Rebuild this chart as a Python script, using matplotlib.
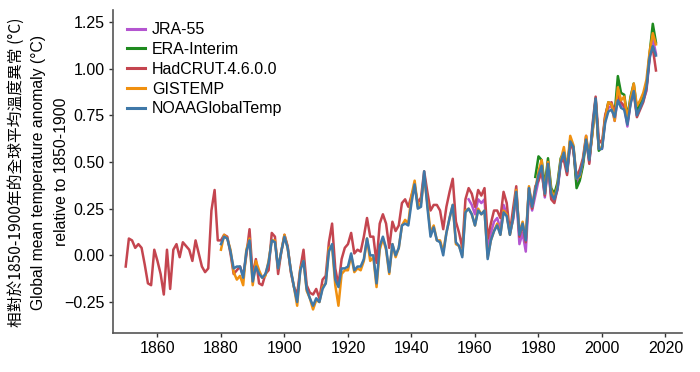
"""Global mean temperature anomaly relative to 1850-1900, five datasets."""

import matplotlib
matplotlib.use("Agg")
import matplotlib.pyplot as plt
import numpy as np

# ── Data ──────────────────────────────────────────────────────────────
years_hadcrut = np.arange(1850, 2018)
hadcrut = [
    -0.06, 0.09, 0.08, 0.04, 0.06, 0.04, -0.05, -0.15, -0.16, 0.03,
    -0.03, -0.10, -0.21, 0.03, -0.18, 0.03, 0.06, -0.01, 0.07, 0.05,
    0.03, -0.03, 0.08, 0.01, -0.06, -0.09, -0.07, 0.24, 0.35, 0.08,
    0.08, 0.11, 0.10, 0.01, -0.10, -0.08, -0.06, -0.11, 0.00, 0.14,
    -0.11, -0.02, -0.15, -0.16, -0.10, -0.08, 0.12, 0.10, -0.10, 0.02,
    0.11, 0.05, -0.09, -0.17, -0.21, -0.07, 0.03, -0.16, -0.20, -0.21,
    -0.18, -0.23, -0.13, -0.11, 0.07, 0.17, -0.07, -0.16, -0.02, 0.04,
    0.06, 0.12, 0.01, 0.03, 0.02, 0.10, 0.20, 0.10, 0.10, -0.04,
    0.17, 0.22, 0.17, 0.04, 0.18, 0.13, 0.16, 0.28, 0.30, 0.26,
    0.32, 0.37, 0.28, 0.31, 0.45, 0.34, 0.24, 0.27, 0.27, 0.24,
    0.14, 0.26, 0.34, 0.41, 0.18, 0.12, 0.04, 0.30, 0.36, 0.33,
    0.26, 0.35, 0.32, 0.36, 0.09, 0.17, 0.24, 0.24, 0.20, 0.34,
    0.28, 0.12, 0.25, 0.37, 0.10, 0.16, 0.07, 0.36, 0.25, 0.37,
    0.40, 0.45, 0.32, 0.50, 0.30, 0.28, 0.36, 0.50, 0.51, 0.43,
    0.61, 0.56, 0.42, 0.46, 0.52, 0.64, 0.49, 0.70, 0.85, 0.62,
    0.60, 0.75, 0.81, 0.82, 0.76, 0.86, 0.82, 0.80, 0.71, 0.82,
    0.87, 0.74, 0.78, 0.82, 0.89, 1.07, 1.11, 0.99,
]

years_gis = np.arange(1880, 2018)
gistemp = [
    0.03, 0.11, 0.09, 0.03, -0.09, -0.13, -0.11, -0.16, 0.03, 0.09,
    -0.16, -0.03, -0.08, -0.12, -0.11, -0.03, 0.08, 0.08, -0.07, 0.02,
    0.11, 0.04, -0.08, -0.17, -0.27, -0.07, -0.03, -0.19, -0.23, -0.29,
    -0.24, -0.25, -0.17, -0.15, 0.04, 0.05, -0.16, -0.27, -0.10, -0.08,
    -0.08, 0.00, -0.09, -0.07, -0.08, -0.03, 0.09, -0.03, -0.01, -0.17,
    0.03, 0.09, 0.03, -0.10, 0.06, -0.01, 0.04, 0.16, 0.19, 0.17,
    0.32, 0.40, 0.26, 0.28, 0.42, 0.28, 0.12, 0.16, 0.08, 0.08,
    0.02, 0.12, 0.20, 0.27, 0.06, 0.05, 0.00, 0.24, 0.25, 0.22,
    0.16, 0.25, 0.22, 0.24, -0.01, 0.08, 0.13, 0.17, 0.11, 0.24,
    0.22, 0.11, 0.20, 0.35, 0.12, 0.18, 0.09, 0.37, 0.26, 0.35,
    0.45, 0.51, 0.33, 0.50, 0.35, 0.31, 0.37, 0.51, 0.58, 0.46,
    0.64, 0.59, 0.41, 0.42, 0.50, 0.64, 0.52, 0.65, 0.83, 0.57,
    0.58, 0.73, 0.82, 0.81, 0.72, 0.90, 0.83, 0.85, 0.73, 0.84,
    0.92, 0.80, 0.83, 0.87, 0.94, 1.09, 1.19, 1.13,
]

years_noaa = np.arange(1880, 2018)
noaa = [
    0.06, 0.10, 0.09, 0.02, -0.07, -0.06, -0.06, -0.12, 0.02, 0.08,
    -0.14, -0.06, -0.10, -0.12, -0.10, -0.04, 0.08, 0.07, -0.07, 0.02,
    0.10, 0.04, -0.08, -0.17, -0.25, -0.08, -0.03, -0.18, -0.23, -0.27,
    -0.23, -0.25, -0.18, -0.15, 0.02, 0.06, -0.13, -0.17, -0.07, -0.07,
    -0.06, 0.01, -0.08, -0.06, -0.06, -0.02, 0.09, 0.00, 0.00, -0.15,
    0.05, 0.10, 0.04, -0.09, 0.06, 0.00, 0.04, 0.16, 0.17, 0.16,
    0.28, 0.38, 0.25, 0.26, 0.45, 0.26, 0.10, 0.15, 0.08, 0.07,
    0.00, 0.12, 0.20, 0.27, 0.07, 0.05, -0.01, 0.23, 0.25, 0.22,
    0.16, 0.24, 0.22, 0.24, -0.02, 0.08, 0.13, 0.16, 0.11, 0.23,
    0.21, 0.11, 0.20, 0.34, 0.11, 0.17, 0.08, 0.36, 0.26, 0.35,
    0.43, 0.48, 0.33, 0.49, 0.33, 0.30, 0.36, 0.50, 0.55, 0.45,
    0.61, 0.58, 0.41, 0.43, 0.50, 0.62, 0.51, 0.68, 0.84, 0.57,
    0.57, 0.71, 0.77, 0.78, 0.74, 0.83, 0.79, 0.78, 0.70, 0.81,
    0.88, 0.75, 0.79, 0.83, 0.90, 1.06, 1.12, 1.07,
]

years_jra = np.arange(1958, 2018)
jra55 = [
    0.30, 0.27, 0.22, 0.30, 0.28, 0.30, 0.04, 0.12, 0.18, 0.20,
    0.14, 0.27, 0.22, 0.12, 0.19, 0.32, 0.06, 0.12, 0.02, 0.33,
    0.24, 0.32, 0.40, 0.46, 0.31, 0.48, 0.31, 0.30, 0.35, 0.49,
    0.55, 0.44, 0.60, 0.57, 0.38, 0.41, 0.50, 0.62, 0.50, 0.66,
    0.83, 0.57, 0.57, 0.72, 0.79, 0.80, 0.72, 0.85, 0.80, 0.80,
    0.69, 0.82, 0.89, 0.75, 0.79, 0.83, 0.88, 1.05, 1.16, 1.08,
]

years_era = np.arange(1979, 2018)
era_interim = [
    0.42, 0.53, 0.51, 0.37, 0.52, 0.36, 0.33, 0.39, 0.52, 0.55,
    0.45, 0.62, 0.58, 0.36, 0.40, 0.48, 0.62, 0.52, 0.66, 0.84,
    0.56, 0.58, 0.74, 0.82, 0.81, 0.76, 0.96, 0.87, 0.86, 0.74,
    0.85, 0.92, 0.78, 0.81, 0.86, 0.90, 1.08, 1.24, 1.14,
]

series = [
    ("JRA-55", years_jra, jra55, "#b455d0"),
    ("ERA-Interim", years_era, era_interim, "#1e8a1e"),
    ("HadCRUT.4.6.0.0", years_hadcrut, hadcrut, "#c4454f"),
    ("GISTEMP", years_gis, gistemp, "#f0900f"),
    ("NOAAGlobalTemp", years_noaa, noaa, "#3f78a8"),
]

ylabel_lines = [
    "相對於1850-1900年的全球平均溫度異常 (°C)",
    "Global mean temperature anomaly (°C)",
    "relative to 1850-1900",
]

# ── Figure ────────────────────────────────────────────────────────────
plt.rcParams["font.family"] = ["Liberation Sans", "DejaVu Sans"]

fig = plt.figure(figsize=(7, 3.72), dpi=100)
ax = fig.add_axes([113 / 700, 39 / 372, 569 / 700, 323 / 372])

for label, x, y, color in series:
    ax.plot(x, y, color=color, linewidth=1.8, label=label)

ax.set_xlim(1846, 2025.2)
ax.set_ylim(-0.416, 1.314)
ax.set_xticks(np.arange(1860, 2021, 20))
ax.set_yticks([-0.25, 0.0, 0.25, 0.5, 0.75, 1.0, 1.25])
ax.set_yticklabels(["\u22120.25", "0.00", "0.25", "0.50", "0.75", "1.00", "1.25"])
ax.tick_params(labelsize=11.5, length=3, width=1, color="#333333", pad=3)

for side in ("top", "right"):
    ax.spines[side].set_visible(False)
for side in ("left", "bottom"):
    ax.spines[side].set_color("#555555")
    ax.spines[side].set_linewidth(1.2)

# y label: one rotated text per line, centred on the axes' middle
label_fonts = [["Noto Sans CJK TC", "DejaVu Sans"],
               ["Liberation Sans", "DejaVu Sans"],
               ["Liberation Sans", "DejaVu Sans"]]
for xpix, line, fam in zip([16, 39, 61], ylabel_lines, label_fonts):
    fig.text(xpix / 700, (372 - 172) / 372, line,
             rotation=90, rotation_mode="anchor", ha="center", va="center",
             fontsize=11.3, family=fam)

leg = ax.legend(loc="upper left", bbox_to_anchor=(14 / 569, 0.962),
                frameon=False, fontsize=11.5, handlelength=1.1,
                handletextpad=0.45, labelspacing=0.3, borderpad=0,
                borderaxespad=0)
for line in leg.get_lines():
    line.set_linewidth(2.2)

fig.patch.set_facecolor("white")
fig.savefig("out.png", dpi=100, facecolor="white")
